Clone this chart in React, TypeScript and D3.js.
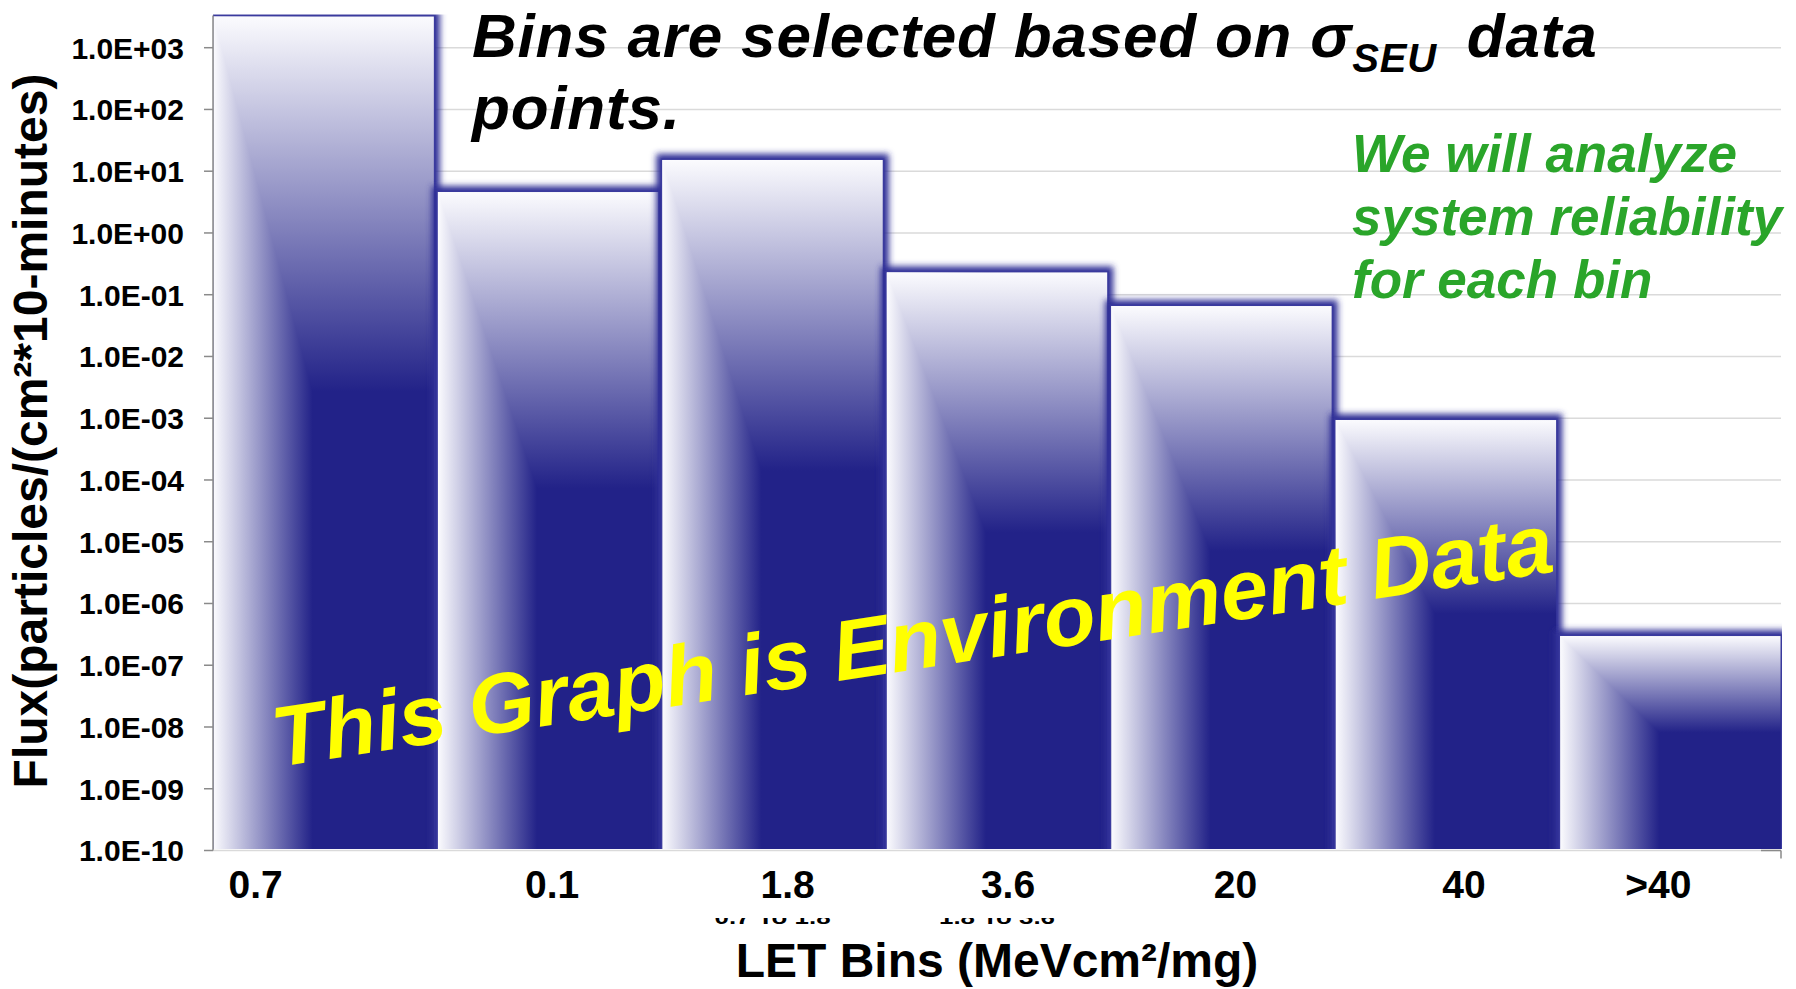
import React from 'react';
import * as d3 from 'd3';

// LET bins and the environment flux in each bin (particles / (cm^2 * 10 minutes))
const categories = ['0.7', '0.1', '1.8', '3.6', '20', '40', '>40'];
const fluxValues = [3200, 4.6, 15.2, 0.23, 0.0656, 9.35e-4, 2.97e-7];

const tickValues = [1e3, 1e2, 1e1, 1e0, 1e-1, 1e-2, 1e-3, 1e-4, 1e-5, 1e-6, 1e-7, 1e-8, 1e-9, 1e-10];
const tickLabels = [
  '1.0E+03', '1.0E+02', '1.0E+01', '1.0E+00', '1.0E-01', '1.0E-02', '1.0E-03',
  '1.0E-04', '1.0E-05', '1.0E-06', '1.0E-07', '1.0E-08', '1.0E-09', '1.0E-10',
];

// partially hidden range notes under two of the bin labels
const rangeNotes = ['0.7 To 1.8', '1.8 To 3.6'];
const rangeNoteBins = ['1.8', '3.6'];

// hand-placed label boxes sit a little off the bar centres
const labelNudge = [-68, 4, 15, 11, 14, 18, -12];

const W = 1796;
const H = 989;
const plot = { left: 213, right: 1781, top: 14.5, bottom: 849 };
const FONT = "'Liberation Sans', Arial, Helvetica, sans-serif";
const DARK = '#222288';

export default function App() {
  const x = d3
    .scaleBand<string>()
    .domain(categories)
    .range([plot.left, plot.right])
    .paddingInner(0.018)
    .paddingOuter(0.002);
  const y = d3.scaleLog().domain([1e-10, 1e3]).range([850.5, 47.7]);
  const base = y(1e-10);
  const bw = x.bandwidth();

  return (
    <svg
      width={W}
      height={H}
      viewBox={`0 0 ${W} ${H}`}
      style={{ position: 'absolute', left: 0, top: 0, display: 'block', background: '#fff' }}
    >
      <defs>
        <linearGradient id="hfade" x1="0" y1="0" x2="0.45" y2="0" gradientUnits="objectBoundingBox">
          <stop offset="0" stopColor="#fbfbfe" />
          <stop offset="1" stopColor={DARK} />
        </linearGradient>
        <linearGradient id="vfade" x1="0" y1="0" x2="0" y2="0.45" gradientUnits="objectBoundingBox">
          <stop offset="0" stopColor="#fbfbfe" />
          <stop offset="1" stopColor={DARK} />
        </linearGradient>
        <filter id="glow" x="-30%" y="-10%" width="160%" height="120%">
          <feGaussianBlur stdDeviation="3.2" />
        </filter>
        <clipPath id="plotClip">
          <rect x={plot.left} y={plot.top} width={plot.right - plot.left + 1} height={plot.bottom - plot.top} />
        </clipPath>
        <clipPath id="noteClip">
          <rect x={0} y={918} width={W} height={7} />
        </clipPath>
      </defs>

      {/* decade gridlines */}
      <g>
        {tickValues.map((t) => (
          <line
            key={`g${t}`}
            x1={plot.left}
            x2={plot.right}
            y1={y(t)}
            y2={y(t)}
            stroke="#dadada"
            strokeWidth={1.5}
          />
        ))}
      </g>

      {/* bars: soft dark rim, then a fill that fades in from the top and from the left */}
      <g clipPath="url(#plotClip)">
        {categories.map((c, i) => {
          const x0 = x(c) as number;
          const y0 = y(fluxValues[i]);
          const h = base - y0;
          return (
            <g key={c}>
              <rect
                x={x0 - 6}
                y={y0 - 6}
                width={bw + 12}
                height={h + 12}
                fill="#2e2e96"
                filter="url(#glow)"
              />
              <rect x={x0 - 1.5} y={y0 - 1.5} width={bw + 3} height={h + 3} fill="#3a3a9e" />
              <g style={{ isolation: 'isolate' }}>
                <rect x={x0} y={y0} width={bw} height={h} fill="url(#hfade)" />
                <rect
                  x={x0}
                  y={y0}
                  width={bw}
                  height={h}
                  fill="url(#vfade)"
                  style={{ mixBlendMode: 'lighten' }}
                />
              </g>
            </g>
          );
        })}
      </g>

      {/* value axis */}
      <line x1={plot.left} x2={plot.left} y1={plot.top + 1} y2={base} stroke="#8a8a8a" strokeWidth={1.5} />
      {tickValues.map((t) => (
        <line key={`t${t}`} x1={plot.left - 9} x2={plot.left} y1={y(t)} y2={y(t)} stroke="#8a8a8a" strokeWidth={1.5} />
      ))}
      <line x1={plot.right - 20} x2={plot.right} y1={base} y2={base} stroke="#8a8a8a" strokeWidth={1.5} />
      <line x1={plot.right} x2={plot.right} y1={base} y2={base + 8} stroke="#8a8a8a" strokeWidth={1.5} />

      <g fontFamily={FONT} fontWeight="bold" fontSize={30} fill="#000" textAnchor="end">
        {tickValues.map((t, i) => (
          <text key={`l${t}`} x={184} y={y(t)} dy="0.36em">
            {tickLabels[i]}
          </text>
        ))}
      </g>

      <text
        transform={`translate(47, 431) rotate(-90)`}
        textAnchor="middle"
        fontFamily={FONT}
        fontWeight="bold"
        fontSize={48}
        fill="#000"
      >
        Flux(particles/(cm²*10-minutes)
      </text>

      {/* bin labels */}
      <g fontFamily={FONT} fontWeight="bold" fontSize={39} fill="#000" textAnchor="middle">
        {categories.map((c, i) => (
          <text key={`x${c}`} x={(x(c) as number) + bw / 2 + labelNudge[i]} y={898}>
            {c}
          </text>
        ))}
      </g>

      <g clipPath="url(#noteClip)" fontFamily={FONT} fontWeight="bold" fontSize={19} fill="#000" textAnchor="middle">
        {rangeNotes.map((n, i) => (
          <text
            key={n}
            x={(x(rangeNoteBins[i]) as number) + bw / 2}
            y={924}
            textLength={116}
            lengthAdjust="spacingAndGlyphs"
          >
            {n}
          </text>
        ))}
      </g>

      <text
        x={(plot.left + plot.right) / 2}
        y={977}
        textAnchor="middle"
        fontFamily={FONT}
        fontWeight="bold"
        fontSize={48}
        fill="#000"
      >
        LET Bins (MeVcm²/mg)
      </text>

      {/* headline */}
      <g fontFamily={FONT} fontWeight="bold" fontStyle="italic" fill="#000" fontSize={62} letterSpacing={0.8}>
        <text x={472} y={57}>
          Bins are selected based on σ
          <tspan fontSize={40} dy={15}>
            SEU
          </tspan>
          <tspan dx={30} dy={-15}>
            data
          </tspan>
        </text>
        <text x={472} y={129}>
          points.
        </text>
      </g>

      <g fontFamily={FONT} fontWeight="bold" fontStyle="italic" fill="#2aa52a" fontSize={53}>
        <text x={1352} y={172}>We will analyze</text>
        <text x={1352} y={235}>system reliability</text>
        <text x={1352} y={298}>for each bin</text>
      </g>

      <text
        x={277}
        y={767}
        transform="rotate(-8.7, 277, 767)"
        fontFamily={FONT}
        fontWeight="bold"
        fontStyle="italic"
        fontSize={85}
        fill="#ffff00"
      >
        This Graph is Environment Data
      </text>
    </svg>
  );
}
